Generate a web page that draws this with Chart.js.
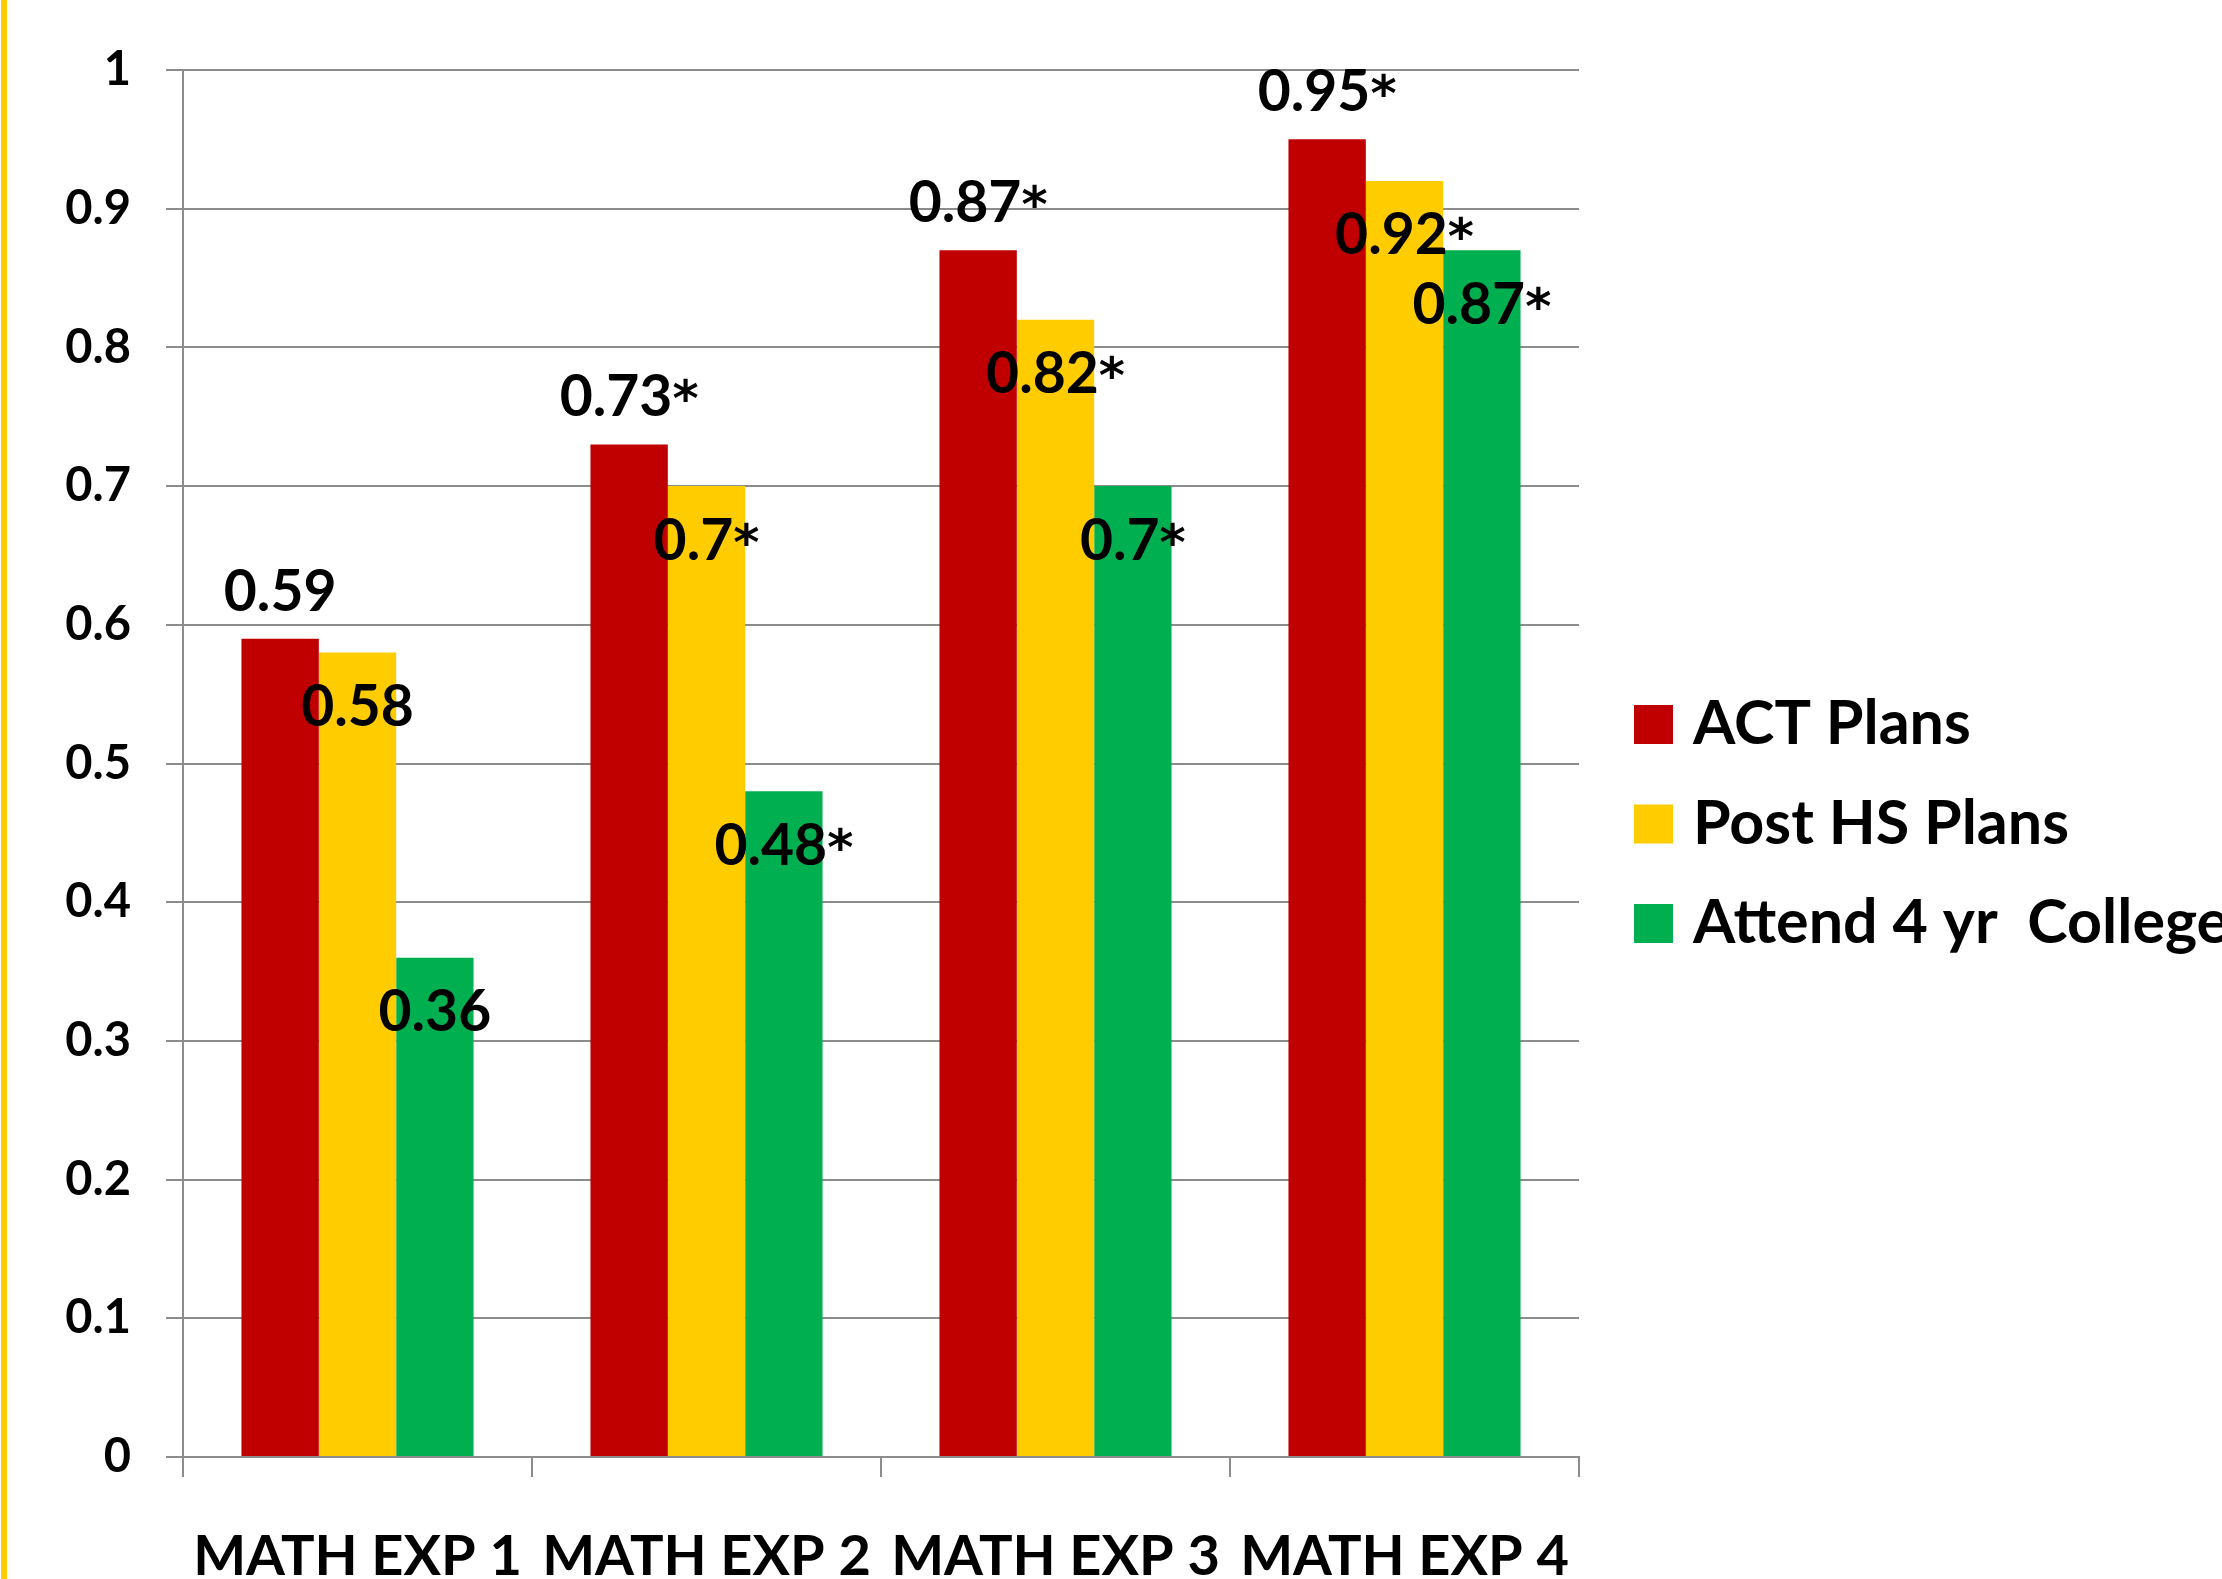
<!DOCTYPE html>
<html>
<head>
<meta charset="utf-8">
<title>Math experience and plans</title>
<script src="https://cdn.jsdelivr.net/npm/chart.js@4.4.1/dist/chart.umd.min.js"></script>
<style>
  html, body { margin: 0; padding: 0; background: #ffffff; }
  #wrap { position: relative; width: 2222px; height: 1579px; overflow: hidden; }
  #stripe { position: absolute; left: 1px; top: 0; width: 6px; height: 1579px; background: #FFCC00; }
  canvas { display: block; }
</style>
</head>
<body>
<div id="wrap">
  <canvas id="chart" width="2222" height="1579"></canvas>
  <div id="stripe"></div>
</div>
<script>
// Categories and series
const categories = ['MATH EXP 1', 'MATH EXP 2', 'MATH EXP 3', 'MATH EXP 4'];
const seriesNames = ['ACT Plans', 'Post HS Plans', 'Attend 4 yr  College'];
const actPlans = [0.59, 0.73, 0.87, 0.95];
const postHsPlans = [0.58, 0.70, 0.82, 0.92];
const attend4yr = [0.36, 0.48, 0.70, 0.87];
// Significance markers (asterisk after the value)
const actSig = [false, true, true, true];
const postHsSig = [false, true, true, true];
const attendSig = [false, true, true, true];
// Y axis tick labels
const yTickLabels = ['0', '0.1', '0.2', '0.3', '0.4', '0.5', '0.6', '0.7', '0.8', '0.9', '1'];

const seriesColors = ['#C00000', '#FFCC00', '#00B050'];
const FONT = 'Lato';
const gridColor = '#8C8C8C';

const valueLabels = {
  id: 'valueLabels',
  afterDatasetsDraw(chart) {
    const ctx = chart.ctx;
    const numFont = 'bold 57px ' + FONT;
    const starFont = 'bold 50px "DejaVu Sans"';
    ctx.save();
    ctx.fillStyle = '#000000';
    ctx.textAlign = 'left';
    ctx.textBaseline = 'alphabetic';
    ctx.font = numFont;
    const capH = ctx.measureText('0').actualBoundingBoxAscent;
    chart.data.datasets.forEach((ds, i) => {
      const meta = chart.getDatasetMeta(i);
      meta.data.forEach((bar, j) => {
        const num = String(ds.data[j]);
        const star = ds.sig[j] ? '*' : '';
        ctx.font = numFont;
        const wNum = ctx.measureText(num).width;
        ctx.font = starFont;
        const wStar = star ? ctx.measureText(star).width : 0;
        const left = bar.x - (wNum + wStar) / 2;
        // first series: label above the bar; others: just inside the top
        const center = i === 0 ? bar.y - 49 : bar.y + 52.5;
        const base = center + capH / 2;
        ctx.font = numFont;
        ctx.fillText(num, left, base);
        if (star) {
          ctx.font = starFont;
          ctx.fillText(star, left + wNum, base);
        }
      });
    });
    ctx.restore();
  }
};

const sideLegend = {
  id: 'sideLegend',
  afterDraw(chart) {
    const ctx = chart.ctx;
    const area = chart.chartArea;
    const boxSize = 39;
    const boxX = area.right + 55;
    const firstCenter = 724.5;
    const rowGap = 99.5;
    ctx.save();
    ctx.font = 'bold 61px ' + FONT;
    ctx.textAlign = 'left';
    ctx.textBaseline = 'alphabetic';
    const capH = ctx.measureText('A').actualBoundingBoxAscent;
    chart.data.datasets.forEach((ds, i) => {
      const cy = firstCenter + i * rowGap;
      ctx.fillStyle = ds.backgroundColor;
      ctx.fillRect(boxX, cy - boxSize / 2, boxSize, boxSize);
      ctx.fillStyle = '#000000';
      ctx.fillText(ds.label, boxX + boxSize + 20, cy - 2.5 + capH / 2);
    });
    ctx.restore();
  }
};

new Chart(document.getElementById('chart'), {
  type: 'bar',
  data: {
    labels: categories,
    datasets: [
      { label: seriesNames[0], data: actPlans, sig: actSig, backgroundColor: seriesColors[0] },
      { label: seriesNames[1], data: postHsPlans, sig: postHsSig, backgroundColor: seriesColors[1] },
      { label: seriesNames[2], data: attend4yr, sig: attendSig, backgroundColor: seriesColors[2] }
    ]
  },
  options: {
    responsive: false,
    animation: false,
    devicePixelRatio: 1,
    layout: { padding: { top: 70, right: 643, bottom: 0, left: 0 } },
    datasets: {
      bar: { barPercentage: 1, categoryPercentage: 0.665, borderWidth: 0 }
    },
    plugins: {
      legend: { display: false },
      tooltip: { enabled: false },
      title: { display: false }
    },
    scales: {
      x: {
        grid: {
          display: true,
          offset: true,
          drawOnChartArea: false,
          drawTicks: true,
          tickLength: 20,
          color: gridColor,
          lineWidth: 2
        },
        border: { display: true, color: gridColor, width: 2 },
        ticks: {
          color: '#000000',
          font: { family: FONT, weight: 'bold', size: 56 },
          padding: 46,
          maxRotation: 0,
          autoSkip: false
        },
        afterFit(scale) { scale.height = 122; }
      },
      y: {
        min: 0,
        max: 1,
        grid: {
          color: gridColor,
          lineWidth: 2,
          drawTicks: true,
          tickLength: 17
        },
        border: { display: true, color: gridColor, width: 2 },
        ticks: {
          stepSize: 0.1,
          color: '#000000',
          font: { family: FONT, weight: 'bold', size: 47 },
          padding: 35,
          callback: (v, i) => yTickLabels[i]
        },
        afterFit(scale) { scale.width = 183; }
      }
    }
  },
  plugins: [valueLabels, sideLegend]
});
</script>
</body>
</html>
